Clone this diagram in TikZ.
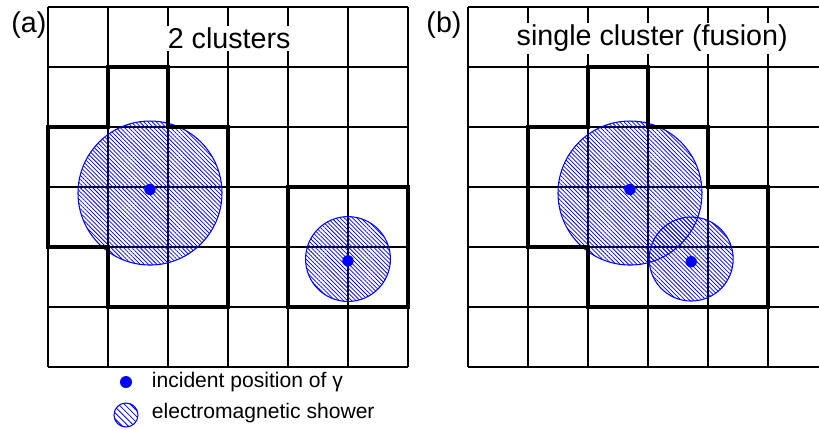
\documentclass[tikz,border=0pt]{standalone}
\usepackage{fontspec}
\setmainfont{Liberation Sans}
\usepackage{tikz}
\usetikzlibrary{positioning,patterns.meta}

\begin{document}
\begin{tikzpicture}[
        every node/.style = {font=\fontsize{13.6}{16}\selectfont},
        cell/.style = {line width=0.6pt},
        cluster/.style = {line width=2pt, line join=miter},
        shower/.style = {draw=blue, line width=0.5pt, pattern color=blue,
            pattern={Lines[angle=-45, distance=1.4pt, line width=0.35pt]}},
        hit/.style = {circle, fill=blue, inner sep=0pt, minimum size=0.19cm},
        title/.style = {fill=white, inner sep=1pt},
        key/.style = {font=\fontsize{10}{12}\selectfont}
    ]
    \useasboundingbox (-0.8,-1.033) rectangle (12.85,6.117);
    \clip (-0.8,-1.033) rectangle (12.85,6.117);

    \draw[cell] (0,0) grid (6,6);
    \draw[cell] (7,0) grid (13,6);

    \draw[shower] (1.7,2.9) circle (1.2);
    \draw[shower] (5.0,1.8) circle (0.707);
    \draw[shower] (9.7,2.9) circle (1.2);
    \draw[shower] (10.72,1.8) circle (0.7);

    \draw[cluster] (1,5) -- (2,5) -- (2,4) -- (3,4) -- (3,1) -- (1,1)
        -- (1,2) -- (0,2) -- (0,4) -- (1,4) -- cycle;
    \draw[cluster] (4,1) rectangle (6,3);
    \draw[cluster] (9,5) -- (10,5) -- (10,4) -- (11,4) -- (11,3) -- (12,3)
        -- (12,1) -- (9,1) -- (9,2) -- (8,2) -- (8,4) -- (9,4) -- cycle;

    \node[hit] (ga1) at (1.7,2.96) {};
    \node[hit] (ga2) at (5.0,1.77) {};
    \node[hit] (gb1) at (9.7,2.96) {};
    \node[hit] (gb2) at (10.72,1.755) {};

    \node[title] (ta) at (3.02,5.48) {2 clusters};
    \node[title] (tb) at (10.07,5.48) {single cluster (fusion)};
    \node (la) at (-0.32,5.7) {(a)};
    \node (lb) at (6.6,5.7) {(b)};

    \node[hit, minimum size=0.2cm] (key1) at (1.3,-0.25) {};
    \node[key, right=0.2cm of key1] (txt1) {incident position of γ};
    \node[shower, circle, inner sep=0pt, minimum size=0.4cm,
        pattern={Lines[angle=-45, distance=2pt, line width=0.4pt]}] (key2) at (1.3,-0.8) {};
    \node[key, anchor=west] (txt2) at (txt1.west |- 0,-0.77) {electromagnetic shower};

    \end{tikzpicture}
\end{document}
